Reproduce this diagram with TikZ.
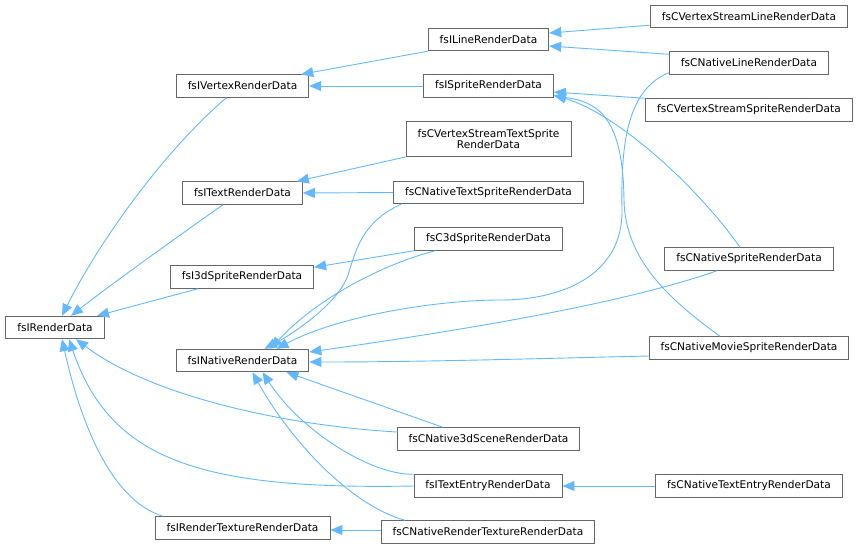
\documentclass[tikz,border=0pt]{standalone}
\usepackage{fontspec}
\setmainfont{DejaVu Sans}
\usetikzlibrary{arrows.meta}
\definecolor{inhblue}{HTML}{63B8FF}
\definecolor{boxgray}{HTML}{666666}
\begin{document}
\begin{tikzpicture}[x=1pt, y=-1pt,
        cls/.style={draw=boxgray, fill=white, line width=0.9pt, shape=rectangle,
            inner xsep=11.5pt, minimum height=22.5pt,
            font=\fontsize{10.6pt}{11.5pt}\selectfont},
        inherit/.style={draw=inhblue, line width=0.9pt,
            -{Triangle[length=12pt, width=10pt]}}]
                \useasboundingbox (0, 0) rectangle (859, 549);

                % first column
                \node (rdata) at (55, 327.5) [cls] {fsIRenderData};

                % interfaces
                \node (vertex) at (242.5, 86) [cls] {fsIVertexRenderData};
                \node (text) at (242.5, 193) [cls] {fsITextRenderData};
                \node (i3d) at (242, 277) [cls] {fsI3dSpriteRenderData};
                \node (native) at (242.5, 360.5) [cls] {fsINativeRenderData};
                \node (rtex) at (242.5, 528) [cls] {fsIRenderTextureRenderData};

                % third column
                \node (line) at (488.5, 39.5) [cls] {fsILineRenderData};
                \node (sprite) at (488.5, 86) [cls] {fsISpriteRenderData};
                \node (vstext) at (488.5, 139) [cls, align=center, minimum height=35pt] {fsCVertexStreamTextSprite\\RenderData};
                \node (ntext) at (488.5, 192.5) [cls] {fsCNativeTextSpriteRenderData};
                \node (c3d) at (488.5, 239) [cls] {fsC3dSpriteRenderData};
                \node (scene) at (488.5, 439) [cls] {fsCNative3dSceneRenderData};
                \node (entry) at (488, 486) [cls] {fsITextEntryRenderData};
                \node (nrtex) at (488, 532) [cls] {fsCNativeRenderTextureRenderData};

                % last column
                \node (vsline) at (749, 16.5) [cls] {fsCVertexStreamLineRenderData};
                \node (nline) at (749, 63) [cls] {fsCNativeLineRenderData};
                \node (vssprite) at (749, 110) [cls] {fsCVertexStreamSpriteRenderData};
                \node (nsprite) at (749, 259) [cls] {fsCNativeSpriteRenderData};
                \node (nmovie) at (749, 348) [cls] {fsCNativeMovieSpriteRenderData};
                \node (nentry) at (749, 486) [cls] {fsCNativeTextEntryRenderData};

                % into fsIRenderData
                \draw[inherit] ([xshift=-16pt]vertex.south) .. controls (165, 150) and (100, 240) .. ([xshift=7pt]rdata.north);
                \draw[inherit] ([xshift=-19.5pt]text.south) .. controls (180, 235) and (110, 285) .. ([xshift=16pt]rdata.north);
                \draw[inherit] ([xshift=-44pt]i3d.south) -- ([xshift=42pt]rdata.north);
                \draw[inherit] ([yshift=7pt]scene.west) .. controls (280, 425) and (150, 395) .. ([xshift=21pt]rdata.south);
                \draw[inherit] (entry.west) .. controls (200, 490) and (110, 460) .. ([xshift=14pt]rdata.south);
                \draw[inherit] ([xshift=-79.5pt]rtex.north) .. controls (110, 500) and (80, 420) .. ([xshift=7pt]rdata.south);

                % into fsIVertexRenderData
                \draw[inherit] (line.south west) -- ([xshift=-8pt]vertex.north east);
                \draw[inherit] (sprite.west) -- (vertex.east);

                % into fsILineRenderData
                \draw[inherit] ([yshift=3pt]vsline.south west) -- ([yshift=6.5pt]line.east);
                \draw[inherit] ([yshift=-3pt]nline.north west) -- ([yshift=-6.5pt]line.east);

                % into fsISpriteRenderData
                \draw[inherit] (vssprite.north west) -- ([yshift=-6pt]sprite.east);
                \draw[inherit] ([xshift=-9pt]nsprite.north) .. controls (700, 190) and (620, 115) .. ([yshift=-9pt]sprite.east);
                \draw[inherit] ([xshift=-29pt]nmovie.north) .. controls (670, 300) and (625, 260) .. (624, 200)
                    .. controls (623, 120) and (600, 102) .. ([yshift=-10pt]sprite.east);

                % into fsITextRenderData and fsI3dSpriteRenderData
                \draw[inherit] (vstext.south west) -- ([xshift=-6pt]text.north east);
                \draw[inherit] (ntext.west) -- (text.east);
                \draw[inherit] (c3d.south west) -- ([yshift=-2pt]i3d.north east);

                % into fsINativeRenderData
                \draw[inherit] ([xshift=8pt]ntext.south west) .. controls (362, 222) and (356, 250) .. (348, 275)
                    .. controls (340, 300) and (300, 330) .. ([xshift=22pt]native.north);
                \draw[inherit] ([xshift=-53pt]c3d.south) .. controls (390, 262) and (320, 295) .. ([xshift=28pt]native.north);
                \draw[inherit] ([yshift=2pt]nline.south west) .. controls (625, 90) and (621, 150) .. (622, 210)
                    .. controls (623, 270) and (570, 300) .. (500, 300)
                    .. controls (440, 300) and (340, 315) .. ([xshift=34pt]native.north);
                \draw[inherit] ([xshift=-32pt]nsprite.south) .. controls (620, 305) and (450, 332) .. ([yshift=8.5pt]native.east);
                \draw[inherit] ([yshift=-8pt]nmovie.west) .. controls (520, 359) and (420, 362) .. ([yshift=-1.5pt]native.east);
                \draw[inherit] ([xshift=-45.5pt]scene.north) -- ([xshift=44pt]native.south);
                \draw[inherit] (entry.north west) .. controls (370, 475) and (300, 430) .. ([xshift=20pt]native.south);
                \draw[inherit] ([xshift=-83pt]nrtex.north) .. controls (350, 505) and (290, 440) .. ([xshift=10pt]native.south);

                % bottom rows
                \draw[inherit] (nentry.west) -- (entry.east);
                \draw[inherit] ([yshift=2pt]nrtex.west) -- ([yshift=-2pt]rtex.east);
            \end{tikzpicture}
\end{document}
